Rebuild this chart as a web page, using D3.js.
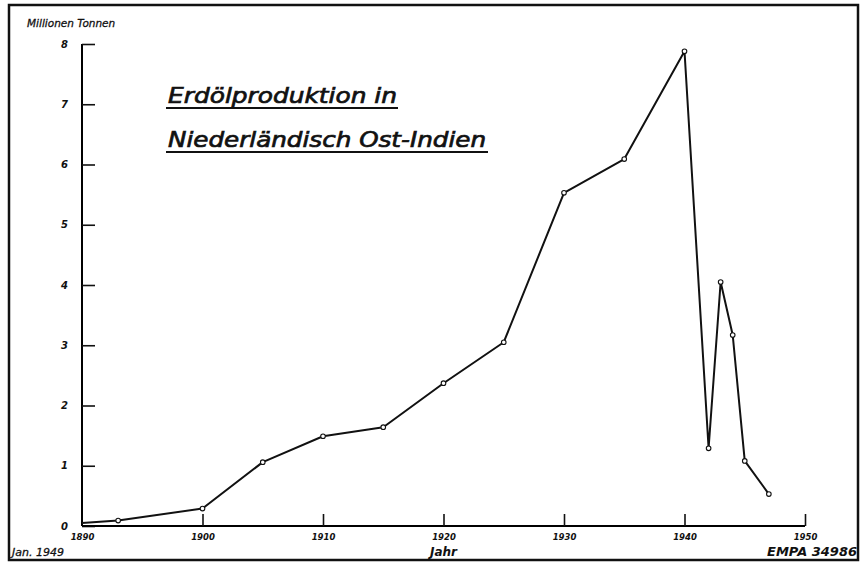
<!DOCTYPE html>
<html>
<head>
<meta charset="utf-8">
<script src="https://cdn.jsdelivr.net/npm/d3@7"></script>
<style>
  body { margin: 0; background: #fff; }
  svg text { font-family: "DejaVu Sans", sans-serif; font-style: italic; fill: #111; }
</style>
</head>
<body>
<svg id="chart" width="861" height="563"></svg>
<script>
// data (million tonnes)
const years = [1890, 1893, 1900, 1905, 1910, 1915, 1920, 1925, 1930, 1935, 1940, 1942, 1943, 1944, 1945, 1947]
const production = [0.05, 0.09, 0.29, 1.06, 1.49, 1.64, 2.37, 3.05, 5.53, 6.09, 7.88, 1.29, 4.05, 3.17, 1.08, 0.53]
const yTicks = [0, 1, 2, 3, 4, 5, 6, 7, 8]
const xTicks = [1890, 1900, 1910, 1920, 1930, 1940, 1950]

const svg = d3.select('#chart')
const xScale = d3.scaleLinear().domain([1890, 1950]).range([82, 805])
const yScale = d3.scaleLinear().domain([0, 8]).range([526, 44])

// frame
svg.append('rect')
  .attr('x', 9).attr('y', 5).attr('width', 849).attr('height', 555)
  .attr('fill', 'none').attr('stroke', '#111').attr('stroke-width', 2.5)

// axes
const yAxis = d3.axisLeft(yScale).tickValues(yTicks).tickSize(-13).tickPadding(14).tickFormat(d3.format('d'))
const gy = svg.append('g').attr('transform', 'translate(82,0)').call(yAxis)
const xAxis = d3.axisBottom(xScale).tickValues(xTicks).tickSize(-12).tickPadding(8).tickFormat(d3.format('d'))
const gx = svg.append('g').attr('transform', 'translate(0,526)').call(xAxis)

gy.select('.domain').attr('d', 'M0,' + yScale(0) + 'V' + yScale(8)).attr('stroke-width', 2)
gx.select('.domain').attr('d', 'M' + xScale(1890) + ',0H' + xScale(1950)).attr('stroke-width', 2)
svg.selectAll('.tick line').attr('stroke', '#111').attr('stroke-width', 1.6)
gy.selectAll('.tick text').style('font-size', '10px').style('font-weight', 'bold')
gx.selectAll('.tick text').style('font-size', '8.5px').style('font-weight', 'bold')
gx.selectAll('.tick').filter(d => d === 1890).select('line').remove()

// line + markers
const pts = years.map((y, i) => ({ year: y, value: production[i] }))
const line = d3.line().x(d => xScale(d.year)).y(d => yScale(d.value))
svg.append('path')
  .datum(pts)
  .attr('d', line)
  .attr('fill', 'none')
  .attr('stroke', '#111')
  .attr('stroke-width', 2)
  .attr('stroke-linejoin', 'round')

svg.selectAll('circle.pt')
  .data(pts.slice(1))
  .enter()
  .append('circle')
  .attr('class', 'pt')
  .attr('cx', d => xScale(d.year))
  .attr('cy', d => yScale(d.value))
  .attr('r', 2.3)
  .attr('fill', '#fff')
  .attr('stroke', '#111')
  .attr('stroke-width', 1.1)

// texts
svg.append('text').attr('x', 27).attr('y', 27)
  .style('font-size', '10.5px')
  .style('stroke', '#111').style('stroke-width', 0.3)
  .text('Millionen Tonnen')

const title = [
  { t: 'Erdölproduktion in', y: 103, w: 229, uw: 232 },
  { t: 'Niederländisch Ost-Indien', y: 147, w: 318, uw: 322 }
]
title.forEach(l => {
  svg.append('text')
    .attr('x', 168).attr('y', l.y)
    .attr('textLength', l.w).attr('lengthAdjust', 'spacingAndGlyphs')
    .style('font-size', '21px')
    .style('stroke', '#111').style('stroke-width', 0.7)
    .text(l.t)
  svg.append('line')
    .attr('x1', 166).attr('x2', 166 + l.uw)
    .attr('y1', l.y + 5).attr('y2', l.y + 5)
    .attr('stroke', '#111').attr('stroke-width', 2.2)
})

svg.append('text').attr('x', xScale(1920)).attr('y', 556)
  .attr('text-anchor', 'middle')
  .style('font-size', '12px').style('font-weight', 'bold')
  .text('Jahr')

svg.append('text').attr('x', 12).attr('y', 556)
  .style('font-size', '11px')
  .style('stroke', '#111').style('stroke-width', 0.3)
  .text('Jan. 1949')

svg.append('text').attr('x', 857).attr('y', 556)
  .attr('text-anchor', 'end')
  .style('font-size', '13px').style('font-weight', 'bold')
  .text('EMPA 34986')
</script>
</body>
</html>
